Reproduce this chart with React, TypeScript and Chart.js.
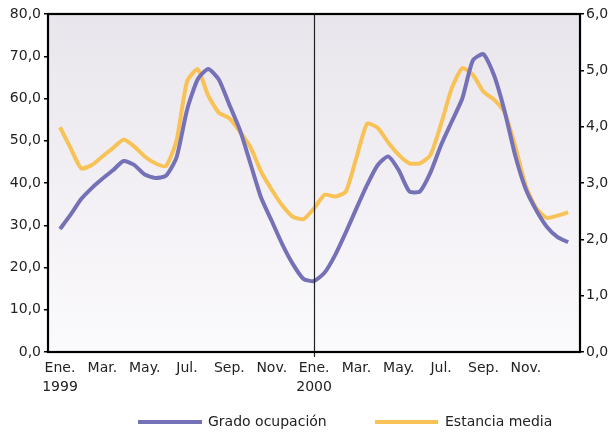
import React, { useEffect, useRef } from "react";
import { Chart, registerables } from "chart.js";

Chart.register(...registerables);

// Half-monthly observations, Jan 1999 – Dec 2000
const gradoOcupacion = [
  29.1, 32.5, 36.2, 38.8, 41.0, 43.0, 45.2, 44.3, 42.0, 41.2, 41.7, 46.0,
  57.3, 64.5, 67.0, 64.5, 58.5, 52.5, 44.5, 36.5, 31.0, 25.5, 20.8, 17.3,
  16.8, 18.8, 23.0, 28.3, 34.0, 39.5, 44.2, 46.3, 43.0, 38.0, 38.0, 42.5,
  49.0, 54.5, 60.0, 69.0, 70.5, 65.5, 57.0, 46.5, 38.5, 33.5, 29.6, 27.2, 26.0,
];
const estanciaMedia = [
  3.99, 3.62, 3.26, 3.32, 3.47, 3.62, 3.77, 3.65, 3.47, 3.35, 3.30, 3.75,
  4.80, 5.02, 4.55, 4.25, 4.15, 3.91, 3.63, 3.20, 2.88, 2.60, 2.40, 2.36,
  2.55, 2.79, 2.76, 2.85, 3.45, 4.05, 3.98, 3.72, 3.50, 3.35, 3.35, 3.50,
  4.05, 4.68, 5.04, 4.92, 4.62, 4.48, 4.25, 3.65, 2.95, 2.55, 2.38, 2.42, 2.48,
];
const tickMonths = [0, 2, 4, 6, 8, 10, 12, 14, 16, 18, 20, 22];
const tickLabels: (string | string[])[] = [
  ["Ene.", "1999"], "Mar.", "May.", "Jul.", "Sep.", "Nov.",
  ["Ene.", "2000"], "Mar.", "May.", "Jul.", "Sep.", "Nov.",
];
const yearBreakMonth = 12;
const seriesNames = ["Grado ocupación", "Estancia media"];
const seriesColors = ["#7571b7", "#f8c257"];

const FONT = "'DejaVu Sans', sans-serif";

export default function App() {
  const ref = useRef<HTMLCanvasElement | null>(null);

  useEffect(() => {
    if (!ref.current) return;

    const framePlugin = {
      id: "frame",
      beforeDraw(chart: any) {
        const { ctx, chartArea: a } = chart;
        const g = ctx.createLinearGradient(0, a.top, 0, a.bottom);
        g.addColorStop(0, "#e9e5ec");
        g.addColorStop(1, "#fbfafc");
        ctx.save();
        ctx.fillStyle = g;
        ctx.fillRect(a.left, a.top, a.right - a.left, a.bottom - a.top);
        ctx.restore();
      },
      afterDatasetsDraw(chart: any) {
        const { ctx, chartArea: a, scales } = chart;
        ctx.save();
        const xb = Math.round(scales.x.getPixelForValue(yearBreakMonth)) + 0.5;
        ctx.strokeStyle = "#222";
        ctx.lineWidth = 1.2;
        ctx.beginPath();
        ctx.moveTo(xb, a.top);
        ctx.lineTo(xb, a.bottom + 5);
        ctx.stroke();
        ctx.strokeStyle = "#000";
        ctx.lineWidth = 2.2;
        ctx.strokeRect(a.left - 1, a.top, a.right - a.left + 1, a.bottom - a.top);
        // legend
        const ly = 422;
        const items = [
          { x0: 138, x1: 202, tx: 208 },
          { x0: 375, x1: 438, tx: 445 },
        ];
        items.forEach((it, i) => {
          ctx.strokeStyle = seriesColors[i];
          ctx.lineWidth = 4;
          ctx.beginPath();
          ctx.moveTo(it.x0, ly);
          ctx.lineTo(it.x1, ly);
          ctx.stroke();
          ctx.fillStyle = "#222";
          ctx.font = `14px ${FONT}`;
          ctx.textBaseline = "middle";
          ctx.textAlign = "left";
          ctx.fillText(seriesNames[i], it.tx, ly);
        });
        ctx.restore();
      },
    };

    const fmt = (v: number) => v.toFixed(1).replace(".", ",");

    const chart = new Chart(ref.current, {
      type: "line",
      data: {
        datasets: [
          {
            label: seriesNames[0],
            data: gradoOcupacion.map((v, i) => ({ x: i / 2, y: v })),
            borderColor: seriesColors[0],
            borderWidth: 4,
            pointRadius: 0,
            tension: 0.2,
            yAxisID: "y",
          },
          {
            label: seriesNames[1],
            data: estanciaMedia.map((v, i) => ({ x: i / 2, y: v })),
            borderColor: seriesColors[1],
            borderWidth: 4,
            pointRadius: 0,
            tension: 0.2,
            yAxisID: "y1",
          },
        ],
      },
      options: {
        animation: false,
        responsive: false,
        layout: { padding: { top: 14, left: 0, right: 0, bottom: 0 } },
        plugins: { legend: { display: false }, tooltip: { enabled: false } },
        scales: {
          x: {
            type: "linear",
            min: -0.52,
            max: 24.56,
            afterFit(scale: any) {
              scale.height = 81;
            },
            afterBuildTicks(scale: any) {
              scale.ticks = tickMonths.map((v) => ({ value: v }));
            },
            ticks: {
              autoSkip: false,
              maxRotation: 0,
              padding: 7,
              color: "#222",
              font: { family: FONT, size: 14, lineHeight: 1.35 },
              callback: (v: any) => {
                const i = tickMonths.indexOf(Number(v));
                return i >= 0 ? tickLabels[i] : "";
              },
            },
            grid: { display: false, drawTicks: false },
            border: { display: false },
          },
          y: {
            position: "left",
            min: 0,
            max: 80,
            afterFit(scale: any) {
              scale.width = 49;
            },
            ticks: {
              stepSize: 10,
              padding: 3,
              color: "#222",
              font: { family: FONT, size: 14 },
              callback: (v: any) => fmt(Number(v)),
            },
            grid: {
              drawOnChartArea: false,
              drawTicks: true,
              tickLength: 5,
              color: "#000",
              lineWidth: 1.5,
            },
            border: { display: false },
          },
          y1: {
            position: "right",
            min: 0,
            max: 6,
            afterFit(scale: any) {
              scale.width = 30;
            },
            ticks: {
              stepSize: 1,
              padding: 2,
              color: "#222",
              font: { family: FONT, size: 14 },
              callback: (v: any) => fmt(Number(v)),
            },
            grid: {
              drawOnChartArea: false,
              drawTicks: true,
              tickLength: 4,
              color: "#000",
              lineWidth: 1.5,
            },
            border: { display: false },
          },
        },
      },
      plugins: [framePlugin],
    });
    return () => chart.destroy();
  }, []);

  return (
    <div style={{ position: "fixed", left: 0, top: 0, width: 610, height: 433, background: "#fff" }}>
      <canvas ref={ref} width={610} height={433} style={{ display: "block" }} />
    </div>
  );
}
